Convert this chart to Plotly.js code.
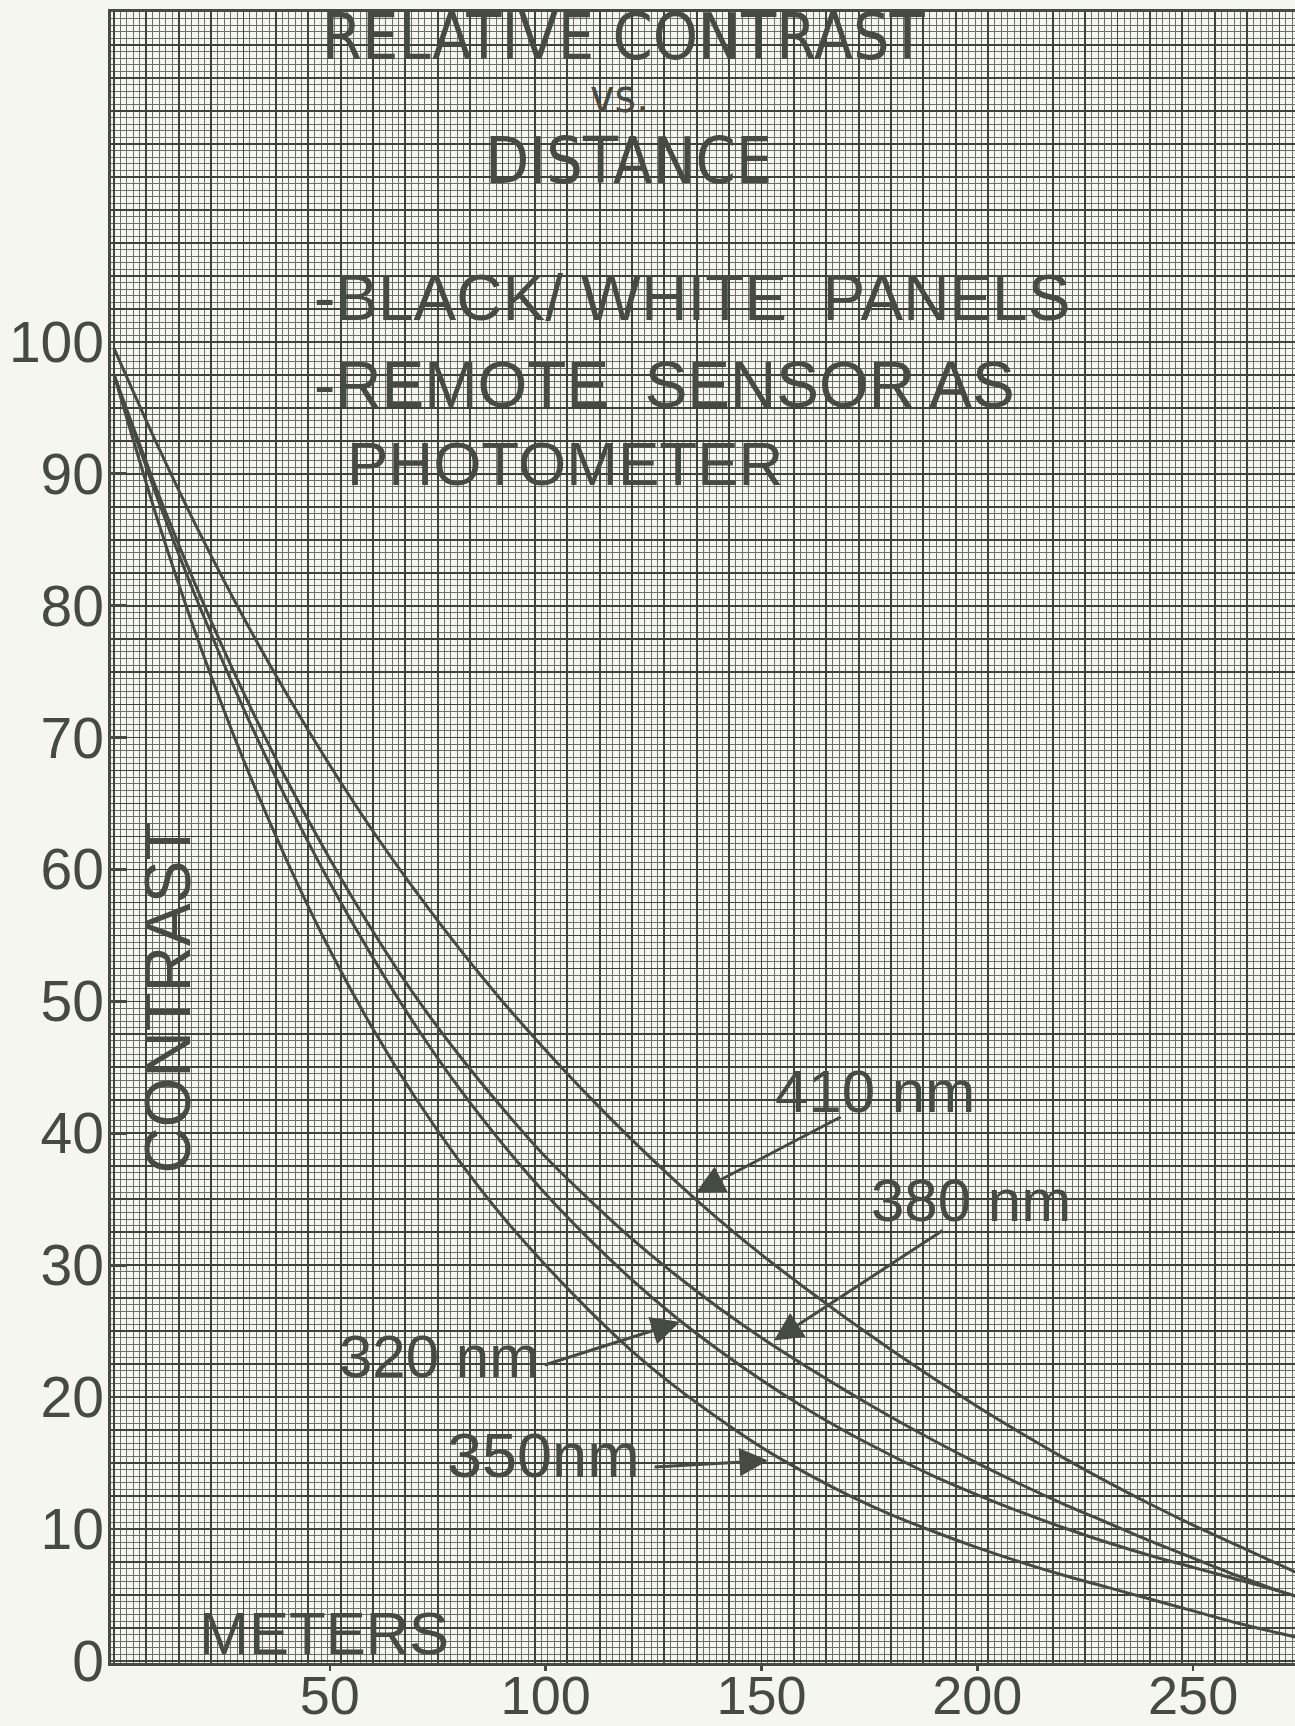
<!DOCTYPE html>
<html><head><meta charset="utf-8">
<script src="https://cdn.plot.ly/plotly-3.0.1.min.js"></script>
<style>body{margin:0;background:#f6f6f1}</style>
</head><body><div id="chart" style="width:1295px;height:1726px"></div>
<script>
// Distance in meters
const distance = [0,10,20,30,40,50,60,70,80,90,100,110,120,130,140,150,160,170,180,190,200,210,220,230,240,250,260,270,274];
// Relative contrast (%) per wavelength
const c410 = [99.5,92.2,85.4,79.1,73.3,67.9,62.9,58.3,54.0,50.0,46.3,42.8,39.5,36.4,33.5,30.8,28.3,25.9,23.6,21.4,19.3,17.3,15.4,13.6,11.9,10.3,8.8,7.3,6.7];
const c380 = [97.5,88.7,80.7,73.4,66.8,60.8,55.3,50.3,45.9,41.9,38.2,35.0,32.0,29.3,26.8,24.5,22.4,20.4,18.5,16.7,15.0,13.4,11.9,10.5,9.1,7.8,6.5,5.3,4.9];
const c320 = [97.5,88.2,79.8,72.2,65.3,59.0,53.3,48.1,43.4,39.2,35.4,32.0,28.9,26.1,23.6,21.3,19.2,17.3,15.6,14.0,12.6,11.3,10.1,9.0,8.0,7.1,6.2,5.3,4.9];
const c350 = [97.5,86.6,76.9,68.3,60.7,53.9,47.9,42.6,37.9,33.7,30.0,26.6,23.5,20.8,18.4,16.2,14.3,12.6,11.1,9.8,8.6,7.5,6.5,5.6,4.7,3.8,2.9,2.1,1.8];
const seriesNames = ['410 nm','380 nm','320 nm','350nm'];
const xTickVals = [50,100,150,200,250];
const yTickVals = [0,10,20,30,40,50,60,70,80,90,100];

const ink = '#454a43';
const bg = '#f6f6f1';
const xr = [-0.7, 273.6];
const yr = [-0.15, 125.0];
const narrow = "'Liberation Sans Narrow', 'Arial Narrow', 'DejaVu Sans Condensed', sans-serif";
const sans = "'Liberation Sans', Arial, Helvetica, sans-serif";

// empty trace so the graph-paper subplot (x, y) is drawn
const paperTrace = {x: [], y: [], type: 'scatter', mode: 'lines', xaxis: 'x', yaxis: 'y', hoverinfo: 'skip'};

const traces = [paperTrace].concat([c410, c380, c320, c350].map((c, i) => ({
  x: distance, y: c, name: seriesNames[i], type: 'scatter', mode: 'lines',
  xaxis: 'x2', yaxis: 'y2',
  line: {color: ink, width: 3, shape: 'spline', smoothing: 0.7},
  hoverinfo: 'skip'
})));

function txt(text, x, y, size, fam, extra) {
  return Object.assign({text: text, x: x, y: y, xref: 'x2', yref: 'y2', showarrow: false,
    font: {family: fam, size: size, color: ink}, xanchor: 'center', yanchor: 'middle'}, extra || {});
}
function arrow(x, y, ax, ay) {
  return {text: '', x: x, y: y, ax: ax, ay: ay, xref: 'x2', yref: 'y2', axref: 'x2', ayref: 'y2',
    showarrow: true, arrowhead: 2, arrowsize: 1.9, arrowwidth: 3, arrowcolor: ink, standoff: 0};
}

const annotations = [
  txt('RELATIVE CONTRAST', 118.2, 123.1, 64, narrow),
  txt('vs.', 117.2, 118.6, 46, narrow),
  txt('DISTANCE', 119.1, 113.7, 64, narrow),
  txt('-BLACK/ WHITE  PANELS', 45.9, 103.3, 64, sans, {xanchor: 'left'}),
  txt('-REMOTE  SENSOR AS', 45.9, 96.7, 64, sans, {xanchor: 'left'}),
  txt('PHOTOMETER', 53.5, 90.8, 62, sans, {xanchor: 'left'}),
  txt('CONTRAST', 12.5, 50.3, 64, sans, {textangle: -90}),
  txt('METERS', 48.7, 2.1, 60, sans),
  txt('410 nm', 176.4, 43.2, 60, sans),
  txt('380 nm', 198.6, 34.9, 60, sans),
  txt('320 nm', 75.4, 23.1, 60, sans),
  txt('350nm', 99.6, 15.6, 63, sans),
  arrow(134.8, 35.5, 168.7, 41.3),
  arrow(152.9, 24.3, 192.3, 32.7),
  arrow(131.1, 25.7, 99.4, 22.4),
  arrow(151.5, 15.2, 124.9, 14.7)
];

const gridAxis = {
  tickmode: 'linear', tick0: 0, showgrid: true, gridcolor: '#3d423c', gridwidth: 1.8,
  showticklabels: false, ticks: '', zeroline: false, showline: true, linecolor: ink, linewidth: 3,
  fixedrange: true
};

const layout = {
  width: 1295, height: 1726,
  margin: {l: 111, r: 0, t: 12, b: 63, pad: 0},
  paper_bgcolor: bg, plot_bgcolor: bg, showlegend: false,
  font: {family: sans, color: ink},
  xaxis: Object.assign({}, gridAxis, {range: xr, dtick: 7.5, mirror: true,
    minor: {tick0: 0, dtick: 1.5, showgrid: true, gridcolor: '#6b6f68', gridwidth: 1, ticks: ''}}),
  yaxis: Object.assign({}, gridAxis, {range: yr, dtick: 2.5,
    minor: {tick0: 0, dtick: 0.5, showgrid: true, gridcolor: '#6b6f68', gridwidth: 1, ticks: ''}}),
  xaxis2: {overlaying: 'x', anchor: 'y2', side: 'bottom', range: xr, tickmode: 'array', tickvals: xTickVals,
    ticktext: xTickVals.map(String), ticks: 'outside', ticklen: 7, tickwidth: 2.5, tickcolor: ink,
    ticklabelstandoff: -22,
    showgrid: false, zeroline: false, showline: false, tickfont: {family: sans, size: 54, color: ink}, fixedrange: true},
  yaxis2: {overlaying: 'y', anchor: 'x2', side: 'left', range: yr, tickmode: 'array', tickvals: yTickVals,
    ticktext: yTickVals.map(String), ticks: 'inside', ticklen: 16, tickwidth: 2.5, tickcolor: ink,
    ticklabelstandoff: 6,
    showgrid: false, zeroline: false, showline: false, tickfont: {family: sans, size: 57, color: ink}, fixedrange: true},
  annotations: annotations
};

Plotly.newPlot('chart', traces, layout, {displayModeBar: false, staticPlot: true});
</script>
</body></html>
